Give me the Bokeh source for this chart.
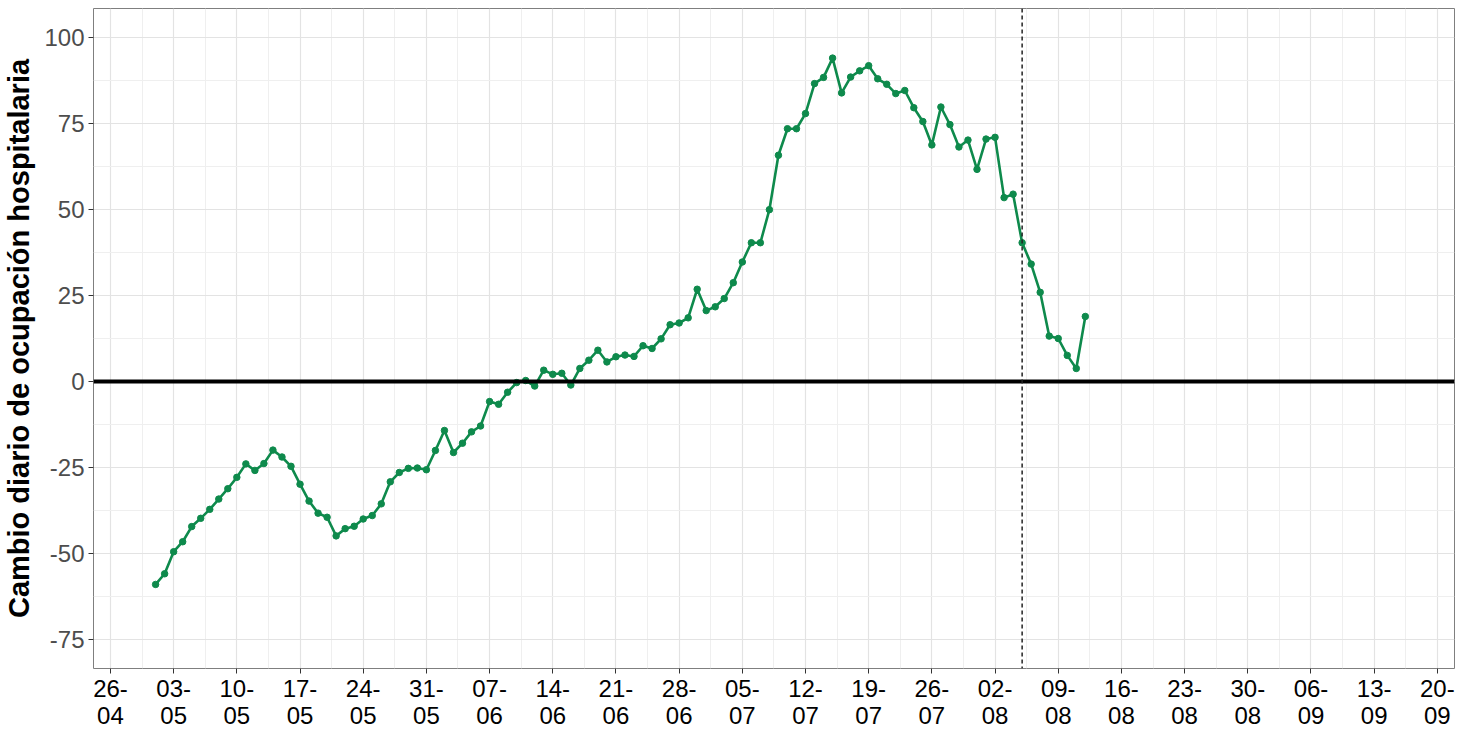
import pandas as pd
from bokeh.plotting import figure
from bokeh.models import Range1d, FixedTicker, Span, ColumnDataSource
from bokeh.embed import file_html
from bokeh.resources import INLINE

start_date = "2021-05-01"
values = [
    -58.9, -55.8, -49.4, -46.5, -42.1, -39.7, -37.1, -34.1, -31.1, -27.8,
    -23.9, -25.8, -23.8, -19.9, -21.9, -24.6, -29.8, -34.7, -38.2, -39.4,
    -44.8, -42.7, -42.0, -39.9, -38.9, -35.5, -29.1, -26.4, -25.2, -25.1,
    -25.6, -20.0, -14.2, -20.6, -17.9, -14.6, -12.9, -5.8, -6.6, -3.1,
    -0.3, 0.3, -1.3, 3.3, 2.1, 2.4, -1.0, 3.8, 6.2, 9.1,
    5.7, 7.2, 7.7, 7.3, 10.4, 9.6, 12.4, 16.5, 17.0, 18.5,
    26.8, 20.6, 21.7, 24.1, 28.7, 34.7, 40.3, 40.3, 49.9, 65.7,
    73.4, 73.4, 77.8, 86.5, 88.3, 93.9, 83.8, 88.4, 90.2, 91.7,
    87.9, 86.3, 83.6, 84.5, 79.5, 75.5, 68.7, 79.7, 74.6, 68.1,
    70.1, 61.6, 70.4, 70.9, 53.4, 54.4, 40.3, 34.1, 25.9, 13.2,
    12.5, 7.6, 3.8, 18.9,
]
dates = pd.date_range(start_date, periods=len(values), freq="D")

tick_dates = ["2021-04-26", "2021-05-03", "2021-05-10", "2021-05-17", "2021-05-24",
              "2021-05-31", "2021-06-07", "2021-06-14", "2021-06-21", "2021-06-28",
              "2021-07-05", "2021-07-12", "2021-07-19", "2021-07-26", "2021-08-02",
              "2021-08-09", "2021-08-16", "2021-08-23", "2021-08-30", "2021-09-06",
              "2021-09-13", "2021-09-20"]
tick_labels = ["26-\n04", "03-\n05", "10-\n05", "17-\n05", "24-\n05", "31-\n05",
               "07-\n06", "14-\n06", "21-\n06", "28-\n06", "05-\n07", "12-\n07",
               "19-\n07", "26-\n07", "02-\n08", "09-\n08", "16-\n08", "23-\n08",
               "30-\n08", "06-\n09", "13-\n09", "20-\n09"]
y_ticks = [-75, -50, -25, 0, 25, 50, 75, 100]
y_tick_labels = ["-75", "-50", "-25", "0", "25", "50", "75", "100"]
y_minor = [-87.5, -62.5, -37.5, -12.5, 12.5, 37.5, 62.5, 87.5, 112.5]
ref_date = "2021-08-05"

DAY = 86400000.0
def ms(d):
    return pd.Timestamp(d).value / 1e6

tick_ms = [ms(d) for d in tick_dates]
minor_ms = [t + 3.5 * DAY for t in tick_ms]

src = ColumnDataSource(dict(x=dates, y=values))

p = figure(width=1460, height=731, x_axis_type="datetime",
           output_backend="svg", toolbar_location=None,
           x_range=Range1d(tick_ms[0] - 1.88 * DAY, tick_ms[0] + 148.9 * DAY),
           y_range=Range1d(-83.3, 108.3),
           min_border_top=8, min_border_right=6, min_border_left=91,
           min_border_bottom=0,
           background_fill_color="white", border_fill_color="white")

p.outline_line_color = "#7f7f7f"
p.outline_line_width = 1

p.xaxis.ticker = FixedTicker(ticks=tick_ms, minor_ticks=minor_ms)
p.xaxis.major_label_overrides = {t: l for t, l in zip(tick_ms, tick_labels)}
p.yaxis.ticker = FixedTicker(ticks=y_ticks, minor_ticks=y_minor)
p.yaxis.major_label_overrides = {t: l for t, l in zip(y_ticks, y_tick_labels)}

for ax in (p.xaxis[0], p.yaxis[0]):
    ax.axis_line_color = None
    ax.major_tick_out = 5
    ax.major_tick_in = 0
    ax.major_tick_line_color = "#333333"
    ax.minor_tick_line_color = None
    ax.major_label_text_font = "Liberation Sans"
    ax.major_label_text_font_size = "24px"

p.xaxis.major_label_text_color = "black"
p.xaxis.major_label_standoff = 1
p.xaxis.major_label_text_line_height = 1.0
p.yaxis.major_label_text_color = "#4d4d4d"
p.yaxis.major_label_standoff = 4
p.yaxis.axis_label = "Cambio diario de ocupación hospitalaria"
p.yaxis.axis_label_text_font = "Liberation Sans"
p.yaxis.axis_label_text_font_style = "bold"
p.yaxis.axis_label_text_font_size = "29px"
p.yaxis.axis_label_text_color = "black"
p.yaxis.axis_label_standoff = 6

for g in (p.xgrid[0], p.ygrid[0]):
    g.grid_line_color = "#e3e3e3"
    g.grid_line_width = 1.2
    g.minor_grid_line_color = "#efefef"
    g.minor_grid_line_width = 1

p.add_layout(Span(location=0, dimension="width", line_color="black", line_width=4))
p.add_layout(Span(location=ms(ref_date), dimension="height", line_color="#222222",
                  line_width=1.5, line_dash="4 3"))

green = "#0e8a4c"
p.line("x", "y", source=src, line_color=green, line_width=2.6)
p.scatter("x", "y", source=src, size=6.5, fill_color=green, line_color=green)

open("out.html", "w").write(file_html(p, INLINE))
